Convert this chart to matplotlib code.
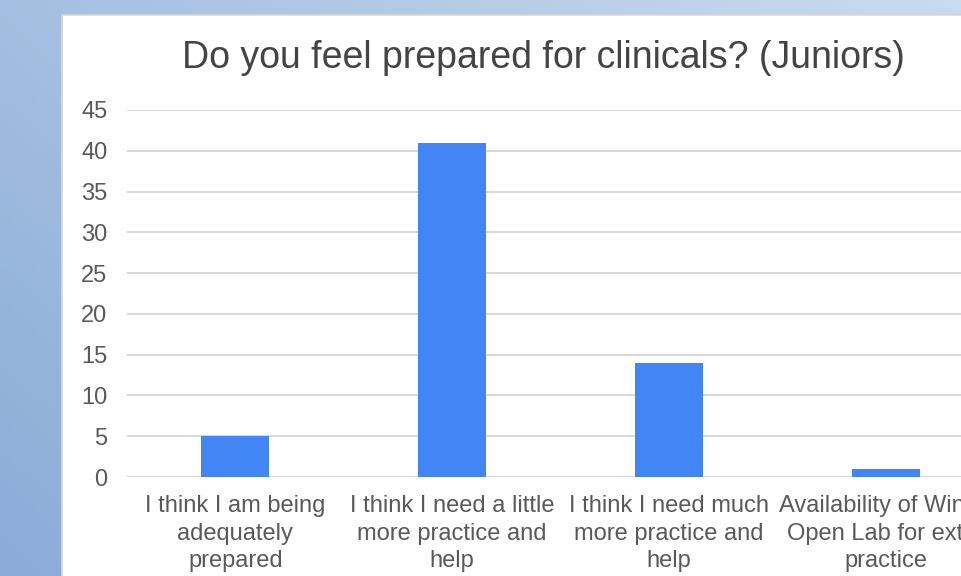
import matplotlib.pyplot as plt
import numpy as np
from matplotlib.colors import LinearSegmentedColormap
from matplotlib.patches import Rectangle

plt.rcParams['font.family'] = ['Liberation Sans', 'DejaVu Sans']

# Survey answers and counts
categories = [
    "I think I am being\nadequately\nprepared",
    "I think I need a little\nmore practice and\nhelp",
    "I think I need much\nmore practice and\nhelp",
    "Availability of Winter\nOpen Lab for extra\npractice",
]
counts = [5, 41, 14, 1]
yticks = [0, 5, 10, 15, 20, 25, 30, 35, 40, 45]

W, H = 961, 576
fig = plt.figure(figsize=(W / 100, H / 100), dpi=100)

# slide background: blue gradient, darker to the lower left
bg = fig.add_axes([0, 0, 1, 1], zorder=-1)
gxx, gyy = np.meshgrid(np.linspace(0, 1, 200), np.linspace(0, 1, 120))
grad = 0.6 * gxx + 0.4 * gyy
bg.imshow(grad, cmap=LinearSegmentedColormap.from_list('slide', ['#8aacd7', '#c9dbee']),
          aspect='auto', extent=[0, 1, 0, 1], origin='lower')
# white chart panel
bg.add_patch(Rectangle((62 / W, -0.01), 1, 1 - 15 / H + 0.01,
                       facecolor='white', edgecolor='#d8d8d8', linewidth=1.2))
bg.set_xlim(0, 1)
bg.set_ylim(0, 1)
bg.set_axis_off()

ax = fig.add_axes([127 / W, 1 - 477 / H, 867 / W, 367 / H])
ax.set_facecolor('none')
x = np.arange(len(categories))
ax.bar(x, counts, width=0.313, color='#4285f4', zorder=3)
ax.set_xlim(-0.5, len(categories) - 0.5)
ax.set_ylim(0, 45)
ax.set_yticks(yticks)
ax.set_xticks(x)
ax.set_xticklabels(categories, fontsize=17, color='#595959', linespacing=1.33)
ax.tick_params(axis='y', length=0, pad=14, labelsize=17, labelcolor='#595959')
ax.tick_params(axis='x', length=0, pad=13)
ax.grid(axis='y', color='#d9d9d9', linewidth=1.5, zorder=0)
for s in ax.spines.values():
    s.set_visible(False)

fig.text(543 / W, 1 - 58 / H, "Do you feel prepared for clinicals? (Juniors)",
         ha='center', va='center', fontsize=27, color='#444444')

fig.savefig('out.png', dpi=100)
